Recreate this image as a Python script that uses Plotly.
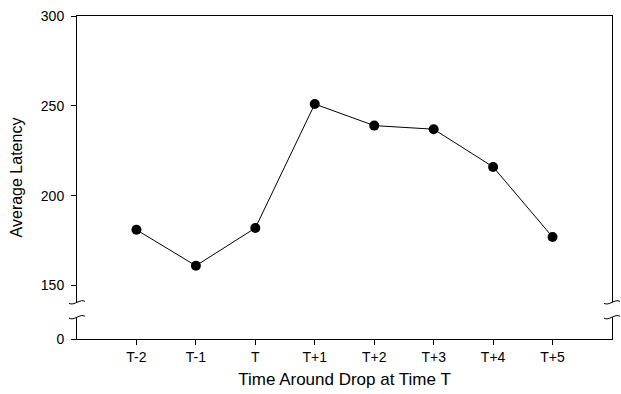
import plotly.graph_objects as go

# ---- data ----
categories = ["T-2", "T-1", "T", "T+1", "T+2", "T+3", "T+4", "T+5"]
latency = [181, 161, 182, 251, 239, 237, 216, 177]
y_tick_values = [150, 200, 250, 300]
y_tick_labels = ["150", "200", "250", "300"]
zero_label = "0"
x_title = "Time Around Drop at Time T"
y_title = "Average Latency"

# ---- layout constants ----
W, H = 621, 394
ML, MR, MT, MB = 77, 8, 14, 54
px_per_unit = (286 - 14) / 150.0
y_bottom = 150 - (340 - 286) / px_per_unit   # axis value shown as "0"
y_break_hi = 150 - (303 - 286) / px_per_unit
y_break_lo = 150 - (318 - 286) / px_per_unit

xpos = list(range(1, len(categories) + 1))

fig = go.Figure()
fig.add_trace(go.Scatter(
    x=xpos, y=latency, mode="lines+markers",
    line=dict(color="black", width=1),
    marker=dict(color="black", size=10),
    showlegend=False, cliponaxis=False,
))

font_family = "Liberation Sans, Arial, sans-serif"

fig.update_layout(
    width=W, height=H,
    margin=dict(l=ML, r=MR, t=MT, b=MB, pad=0),
    paper_bgcolor="white", plot_bgcolor="white",
    font=dict(family=font_family, color="black", size=14),
    xaxis=dict(
        range=[0, len(categories) + 1],
        tickvals=xpos, ticktext=categories,
        showgrid=False, zeroline=False,
        showline=True, linecolor="black", linewidth=1, mirror=True,
        ticks="outside", ticklen=5, tickwidth=1, tickcolor="black",
        tickfont=dict(size=14),
        title=dict(text=x_title, font=dict(size=17), standoff=9),
    ),
    yaxis=dict(
        range=[y_bottom, 300],
        tickvals=[y_bottom] + y_tick_values,
        ticktext=[zero_label] + y_tick_labels,
        showgrid=False, zeroline=False,
        showline=True, linecolor="black", linewidth=1, mirror=True,
        ticks="outside", ticklen=5, tickwidth=1, tickcolor="black",
        tickfont=dict(size=14),
        ticklabelstandoff=4,
        title=dict(text=y_title, font=dict(size=16), standoff=14),
    ),
)

# ---- axis break marks on left and right frame lines ----
plot_w = W - ML - MR
dx = 1.0 / plot_w          # one pixel in paper x
dy = 1.0 / px_per_unit     # one pixel in data y

def tilde(xc, yc):
    return (f"M {xc - 8*dx},{yc - 1*dy} "
            f"C {xc - 3*dx},{yc - 4*dy} {xc + 3*dx},{yc + 4*dy} {xc + 8*dx},{yc + 1*dy}")

for xc in (0.0, 1.0):
    fig.add_shape(type="rect", xref="paper", yref="y",
                  x0=xc - 3*dx, x1=xc + 3*dx, y0=y_break_lo, y1=y_break_hi,
                  fillcolor="white", line=dict(width=0), layer="above")
    for yc in (y_break_hi, y_break_lo):
        fig.add_shape(type="path", xref="paper", yref="y", path=tilde(xc, yc),
                      line=dict(color="black", width=1), layer="above")

fig.write_html("out.html")
